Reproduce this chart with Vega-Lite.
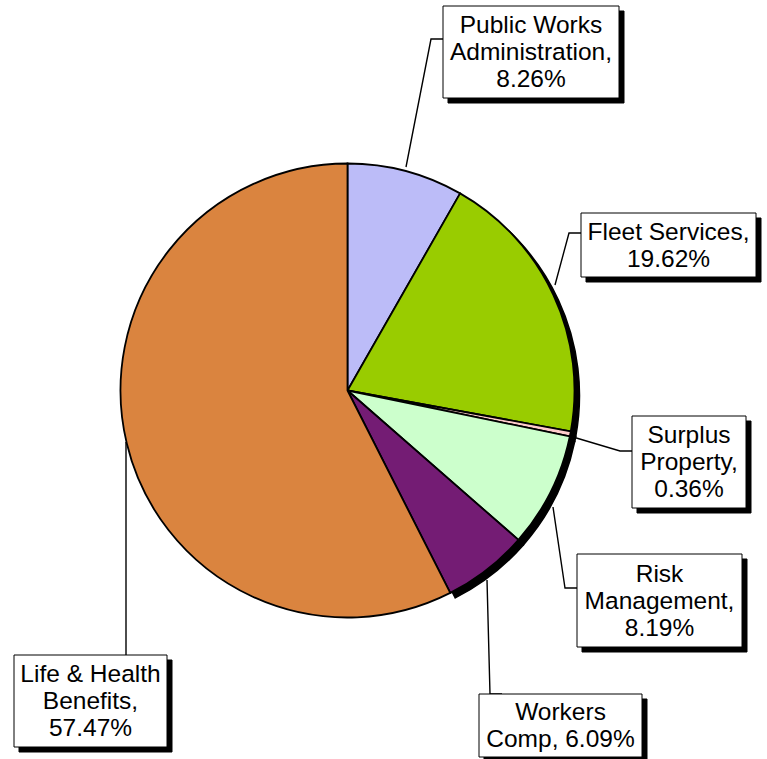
{
  "$schema": "https://vega.github.io/schema/vega-lite/v6.json",
  "width": 695,
  "height": 781,
  "autosize": "none",
  "padding": {"left": 0, "top": 0, "right": 72, "bottom": 0},
  "background": "white",
  "data": {
    "values": [
      {"slice": 1, "category": "Public Works Administration", "pct": 8.26, "label": ["Public Works", "Administration,", "8.26%"]},
      {"slice": 2, "category": "Fleet Services", "pct": 19.62, "label": ["Fleet Services,", "19.62%"]},
      {"slice": 3, "category": "Surplus Property", "pct": 0.36, "label": ["Surplus", "Property,", "0.36%"]},
      {"slice": 4, "category": "Risk Management", "pct": 8.19, "label": ["Risk", "Management,", "8.19%"]},
      {"slice": 5, "category": "Workers Comp", "pct": 6.09, "label": ["Workers", "Comp, 6.09%"]},
      {"slice": 6, "category": "Life & Health Benefits", "pct": 57.47, "label": ["Life & Health", "Benefits,", "57.47%"]}
    ]
  },
  "layer": [
    {
      "mark": {"type": "arc", "radius": 227, "fill": "black", "stroke": "black", "strokeWidth": 1.5, "xOffset": 5, "yOffset": 5},
      "encoding": {
        "theta": {"field": "pct", "type": "quantitative", "stack": true},
        "order": {"field": "slice", "type": "quantitative", "sort": "ascending"},
        "opacity": {"condition": {"test": "datum.category === 'Life & Health Benefits'", "value": 0}, "value": 1}
      }
    },
    {
      "mark": {"type": "arc", "radius": 227, "stroke": "black", "strokeWidth": 1.8},
      "encoding": {
        "theta": {"field": "pct", "type": "quantitative", "stack": true},
        "order": {"field": "slice", "type": "quantitative", "sort": "ascending"},
        "color": {
          "field": "category",
          "type": "nominal",
          "legend": null,
          "scale": {
            "domain": ["Public Works Administration", "Fleet Services", "Surplus Property", "Risk Management", "Workers Comp", "Life & Health Benefits"],
            "range": ["#BCBCF8", "#99CC00", "#FFCCCC", "#CCFFCC", "#741C74", "#DA843F"]
          }
        }
      }
    },
    {
      "encoding": {
        "x": {
          "field": "pct", "type": "quantitative", "axis": null,
          "scale": {"domain": [0.36, 6.09, 8.19, 8.26, 19.62, 57.47], "range": [689, 560.5, 659.5, 531, 668.5, 90.5], "zero": false, "nice": false}
        },
        "y": {
          "field": "pct", "type": "quantitative", "axis": null,
          "scale": {"domain": [0.36, 6.09, 8.19, 8.26, 19.62, 57.47], "range": [462, 725.5, 600.5, 52, 245, 701], "zero": false, "nice": false}
        }
      },
      "layer": [
        {
          "mark": {"type": "point", "size": 4, "filled": false, "stroke": "black", "strokeWidth": 1.4, "opacity": 1},
          "encoding": {
            "shape": {
              "field": "category", "type": "nominal", "legend": null,
              "scale": {
                "domain": ["Public Works Administration", "Fleet Services", "Surplus Property", "Risk Management", "Workers Comp", "Life & Health Benefits"],
                "range": ["M-88,-13H-100L-125,115", "M-87.5,-12H-99.5L-113.5,40", "M-57,-11H-69L-116,-25", "M-82.5,-12.5H-94.5L-106.5,-93.5", "M-58.5,-31.5H-70.5L-73.5,-145.5", "M35.5,-46V-259"]
              }
            }
          }
        },
        {
          "mark": {"type": "point", "size": 4, "filled": true, "fill": "black", "stroke": "black", "strokeWidth": 1, "opacity": 1, "xOffset": 5, "yOffset": 5},
          "encoding": {
            "shape": {
              "field": "category", "type": "nominal", "legend": null,
              "scale": {
                "domain": ["Public Works Administration", "Fleet Services", "Surplus Property", "Risk Management", "Workers Comp", "Life & Health Benefits"],
                "range": ["M-88,-46H88V46H-88Z", "M-87.5,-32H87.5V32H-87.5Z", "M-57,-46H57V46H-57Z", "M-82.5,-46.5H82.5V46.5H-82.5Z", "M-81.5,-31.5H81.5V31.5H-81.5Z", "M-76.5,-46H76.5V46H-76.5Z"]
              }
            }
          }
        },
        {
          "mark": {"type": "point", "size": 4, "filled": true, "fill": "white", "stroke": "black", "strokeWidth": 1, "opacity": 1},
          "encoding": {
            "shape": {
              "field": "category", "type": "nominal", "legend": null,
              "scale": {
                "domain": ["Public Works Administration", "Fleet Services", "Surplus Property", "Risk Management", "Workers Comp", "Life & Health Benefits"],
                "range": ["M-88,-46H88V46H-88Z", "M-87.5,-32H87.5V32H-87.5Z", "M-57,-46H57V46H-57Z", "M-82.5,-46.5H82.5V46.5H-82.5Z", "M-81.5,-31.5H81.5V31.5H-81.5Z", "M-76.5,-46H76.5V46H-76.5Z"]
              }
            }
          }
        },
        {
          "mark": {"type": "text", "font": "Liberation Sans", "fontSize": 24.5, "lineHeight": 27, "align": "center", "baseline": "middle", "fill": "black", "dy": {"expr": "-(length(datum.label) - 1) * 13.5 + 1"}},
          "encoding": {"text": {"field": "label"}}
        }
      ],
      "resolve": {"scale": {"shape": "independent"}}
    }
  ],
  "resolve": {"scale": {"shape": "independent"}},
  "config": {"view": {"stroke": null}}
}
